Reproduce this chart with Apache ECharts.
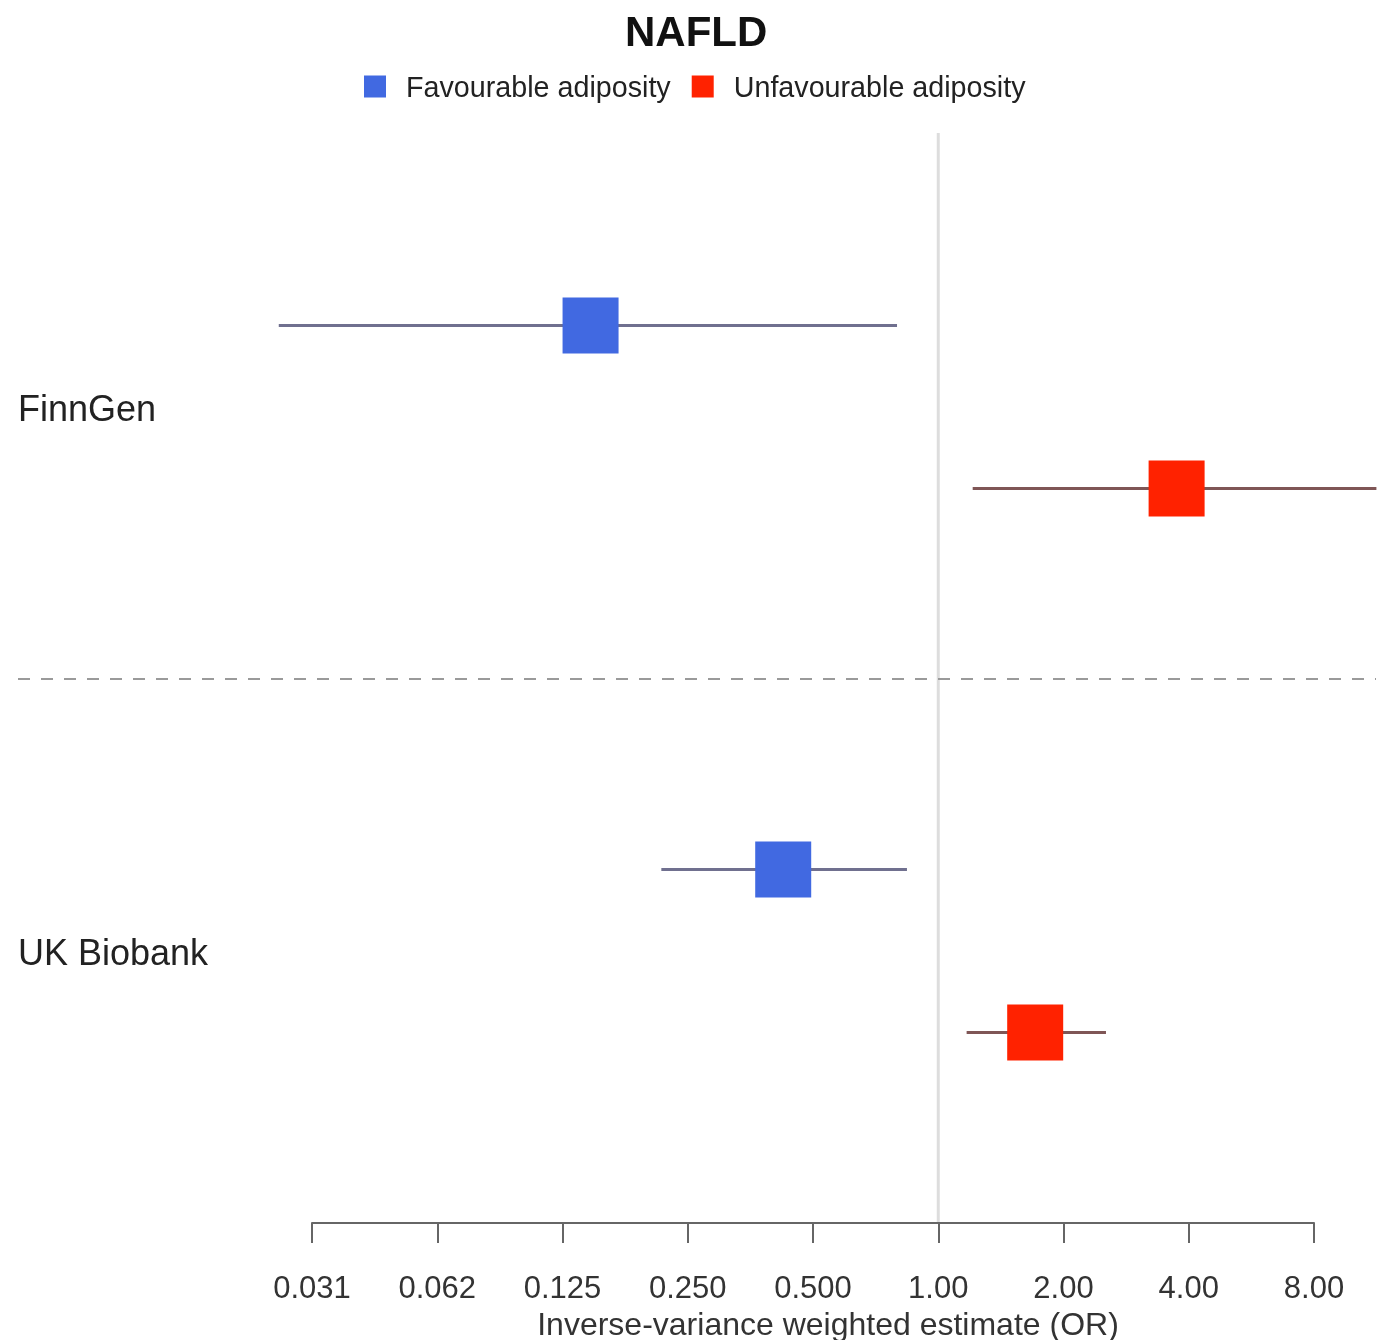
<!DOCTYPE html>
<html>
<head>
<meta charset="utf-8">
<script src="https://cdn.jsdelivr.net/npm/echarts@6/dist/echarts.min.js"></script>
<style>
  html, body { margin: 0; padding: 0; background: #ffffff; }
  #chart { width: 1379px; height: 1340px; }
</style>
</head>
<body>
<div id="chart"></div>
<script>
// ---- data (odds ratios) ----
const groups = ['FinnGen', 'UK Biobank'];
const seriesNames = ['Favourable adiposity', 'Unfavourable adiposity'];
const favEst  = [0.146, 0.424];
const favLow  = [0.026, 0.216];
const favHigh = [0.796, 0.841];
const unfavEst  = [3.74, 1.71];
const unfavLow  = [1.21, 1.17];
const unfavHigh = [11.3, 2.53];
const tickLabels = ['0.031', '0.062', '0.125', '0.250', '0.500', '1.00', '2.00', '4.00', '8.00'];
const nullOR = 1;

const FONT = '"Liberation Sans", Arial, Helvetica, sans-serif';
const chart = echarts.init(document.getElementById('chart'));

function buildData(low, est, high) {
  return groups.map((g, i) => [low[i], est[i], high[i], i]);
}

function makeRender(offset, lineColor) {
  return function (params, api) {
    const cat = api.value(3);
    const c = api.coord([api.value(1), cat]);
    const cNext = api.coord([api.value(1), cat + 1]);
    const band = Math.abs(cNext[1] - c[1]);
    const y = c[1] + offset * band;
    const lo = api.coord([api.value(0), cat])[0];
    const hi = api.coord([api.value(2), cat])[0];
    const s = 56;
    return {
      type: 'group',
      children: [
        { type: 'line', shape: { x1: lo, y1: y, x2: hi, y2: y },
          style: { stroke: lineColor, lineWidth: 3 } },
        { type: 'rect', shape: { x: c[0] - s / 2, y: y - s / 2, width: s, height: s },
          style: { fill: api.visual('color') } }
      ]
    };
  };
}

const option = {
  animation: false,
  backgroundColor: '#ffffff',
  textStyle: { fontFamily: FONT },
  title: {
    text: 'NAFLD',
    left: 620,
    top: 8,
    textStyle: { fontFamily: FONT, fontSize: 42, fontWeight: 'bold', color: '#111' }
  },
  legend: {
    data: seriesNames,
    left: 359,
    top: 70,
    icon: 'rect',
    itemWidth: 22,
    itemHeight: 22,
    itemGap: 21,
    formatter: function (name) { return '{t|' + name + '}'; },
    textStyle: {
      fontFamily: FONT, fontSize: 28.7, color: '#222',
      rich: { t: { fontFamily: FONT, fontSize: 28.7, color: '#222', padding: [6, 0, 0, 15] } }
    }
  },
  grid: { left: 312, right: 65, top: 135, bottom: 117, containLabel: false, outerBoundsMode: 'none' },
  xAxis: {
    type: 'log',
    logBase: 2,
    min: 1 / 32,
    max: 8,
    splitNumber: 8,
    name: 'Inverse-variance weighted estimate (OR)',
    nameLocation: 'middle',
    nameGap: 81,
    nameTextStyle: { fontFamily: FONT, fontSize: 32, color: '#333', padding: [0, 0, 0, 30] },
    axisLine: { show: true, lineStyle: { color: '#666', width: 2 } },
    axisTick: { show: true, length: 20, lineStyle: { color: '#666', width: 2 } },
    axisLabel: {
      fontFamily: FONT, fontSize: 31, color: '#333', margin: 51,
      formatter: function (v, idx) { return tickLabels[idx] !== undefined ? tickLabels[idx] : ''; }
    },
    splitLine: { show: false },
    minorTick: { show: false }
  },
  yAxis: {
    type: 'category',
    data: groups,
    inverse: true,
    axisLine: { show: false },
    axisTick: { show: false },
    splitLine: { show: false },
    axisLabel: {
      fontFamily: FONT, fontSize: 36, color: '#222',
      align: 'left', margin: 294,
      formatter: function (v) { return '{g|' + v + '}'; },
      rich: { g: { fontFamily: FONT, fontSize: 36, color: '#222', padding: [8, 0, 0, 0] } }
    }
  },
  series: [
    {
      name: seriesNames[0],
      type: 'custom',
      clip: false,
      itemStyle: { color: '#4169e1' },
      dimensions: ['low', 'est', 'high', 'cat'],
      encode: { x: ['low', 'est', 'high'], y: 'cat' },
      data: buildData(favLow, favEst, favHigh),
      renderItem: makeRender(-0.15, '#70708f'),
      z: 3
    },
    {
      name: seriesNames[1],
      type: 'custom',
      clip: false,
      itemStyle: { color: '#ff2200' },
      dimensions: ['low', 'est', 'high', 'cat'],
      encode: { x: ['low', 'est', 'high'], y: 'cat' },
      data: buildData(unfavLow, unfavEst, unfavHigh),
      renderItem: makeRender(0.15, '#7f5656'),
      z: 3
    }
  ]
};

chart.setOption(option);

// reference line at OR = 1 and dashed separator between the two groups
const xNull = chart.convertToPixel({ xAxisIndex: 0 }, nullOR);
const y0 = chart.convertToPixel({ yAxisIndex: 0 }, groups[0]);
const y1 = chart.convertToPixel({ yAxisIndex: 0 }, groups[1]);
const band = Math.abs(y1 - y0);
const yTop = y0 - band / 2;
const yBottom = y1 + band / 2;
const yMid = Math.round((y0 + y1) / 2);
chart.setOption({
  graphic: [
    {
      type: 'line',
      silent: true,
      z: 0,
      shape: { x1: xNull, y1: yTop - 2, x2: xNull, y2: yBottom },
      style: { stroke: '#dddddd', lineWidth: 3 }
    },
    {
      type: 'line',
      silent: true,
      z: 1,
      shape: { x1: 18, y1: yMid, x2: 1376, y2: yMid },
      style: { stroke: '#9a9a9a', lineWidth: 2, lineDash: [12, 11] }
    }
  ]
});
</script>
</body>
</html>
